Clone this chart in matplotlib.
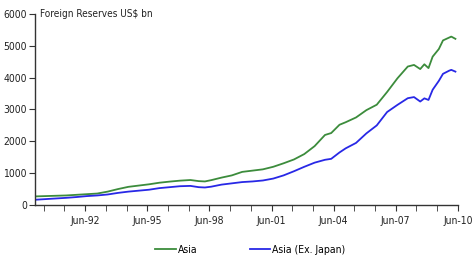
import numpy as np
import matplotlib
matplotlib.use("Agg")
import matplotlib.pyplot as plt

# 時点（年の小数表記）
years = [1990.0, 1990.5, 1991.0, 1991.5, 1992.0, 1992.5, 1993.0, 1993.5,
         1994.0, 1994.5, 1995.0, 1995.5, 1996.0, 1996.5, 1997.0, 1997.5,
         1997.9, 1998.2, 1998.5, 1999.0, 1999.5, 2000.0, 2000.5, 2001.0,
         2001.5, 2002.0, 2002.5, 2003.0, 2003.5, 2004.0, 2004.3, 2004.7,
         2005.0, 2005.5, 2006.0, 2006.5, 2007.0, 2007.5, 2008.0, 2008.3,
         2008.6, 2008.8, 2009.0, 2009.2, 2009.5, 2009.7, 2010.0, 2010.1,
         2010.3]

# 外貨準備（US$ bn）
asia = [270, 280, 290, 300, 320, 340, 360, 420,
        500, 570, 610, 650, 700, 735, 765, 785,
        750, 740, 780, 860, 930, 1040, 1080, 1120,
        1200, 1310, 1430, 1600, 1850, 2200, 2260, 2520,
        2600, 2750, 2980, 3150, 3550, 3980, 4350, 4400,
        4270, 4420, 4300, 4660, 4900, 5170, 5260, 5290,
        5220]
asia_ex_japan = [165, 185, 205, 225, 250, 280, 300, 330,
                 380, 420, 450, 480, 530, 560, 590, 600,
                 560, 550, 575, 640, 680, 720, 740, 770,
                 830, 930, 1060, 1200, 1330, 1420, 1450, 1650,
                 1780, 1950, 2250, 2500, 2920, 3145, 3355, 3390,
                 3250, 3350, 3300, 3620, 3900, 4120, 4220, 4245,
                 4190]

tick_years = [1992, 1995, 1998, 2001, 2004, 2007, 2010]
tick_labels = ["Jun-92", "Jun-95", "Jun-98", "Jun-01", "Jun-04", "Jun-07", "Jun-10"]

plt.rcParams["font.family"] = "DejaVu Sans"
plt.rcParams["font.stretch"] = "condensed"

fig = plt.figure(figsize=(4.75, 2.64), dpi=100)
ax = fig.add_axes([0.074, 0.2235, 0.89, 0.7235])

ax.plot(years, asia, color="#3c8c3c", lw=1.3, label="Asia")
ax.plot(years, asia_ex_japan, color="#2828e6", lw=1.3, label="Asia (Ex. Japan)")

# 軸の設定
ax.set_xlim(1990.0, 2010.42)
ax.set_ylim(0, 6000)
ax.set_yticks(np.arange(0, 6001, 1000))
ax.set_xticks([y + 5 / 12 for y in tick_years])
ax.set_xticklabels(tick_labels)
ax.set_xticks([y + 5 / 12 for y in range(1990, 2010)], minor=True)

for s in ["top", "right"]:
    ax.spines[s].set_visible(False)
for s in ["left", "bottom"]:
    ax.spines[s].set_color("#333333")
    ax.spines[s].set_linewidth(1.0)

ax.tick_params(axis="both", which="both", direction="out", length=4,
               color="#333333", labelsize=7.5, labelcolor="#222222")
ax.tick_params(axis="x", which="major", pad=4)
ax.tick_params(axis="y", pad=2)

ax.text(0.012, 1.0, "Foreign Reserves US$ bn", transform=ax.transAxes,
        fontsize=7.2, color="#222222", va="center", ha="left")

fig.legend(loc="center", bbox_to_anchor=(0.527, 0.053), ncol=2, frameon=False,
           fontsize=7.5, handlelength=2.0, handletextpad=0.2, columnspacing=5.0)

fig.savefig("out.png", dpi=100)
